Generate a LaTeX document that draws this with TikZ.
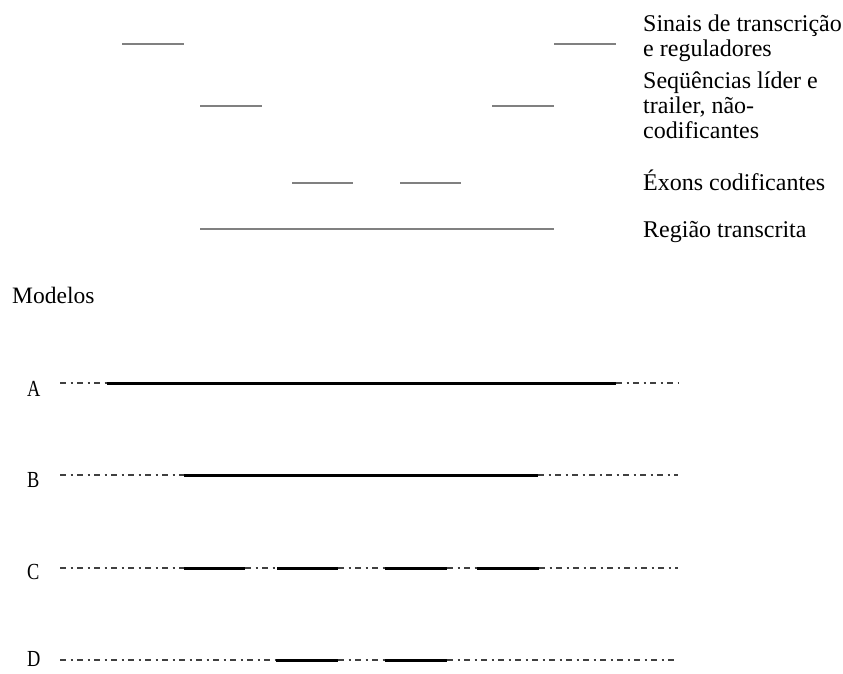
\documentclass[tikz,border=0pt]{standalone}
\usepackage{fontspec}
\setmainfont{Liberation Serif}
\newcommand{\narrowltr}[1]{\scalebox{0.8}[1]{#1}}
\begin{document}
\begin{tikzpicture}[x=1pt,y=-1pt,
  seg/.style={draw=black!50,line width=2.3pt},
  solidbar/.style={draw=black,line width=3pt},
  dashdot/.style={draw=black!75,line width=2pt,dash pattern=on 6pt off 4.5pt on 2pt off 4.5pt},
  lbl/.style={anchor=base west,inner sep=0pt,font=\fontsize{24}{28}\selectfont},
  mdl/.style={anchor=base west,inner sep=0pt,font=\fontsize{23}{27}\selectfont}]
\useasboundingbox[fill=white] (0,0) rectangle (843,673);
% legend segments
\draw[seg] (122,44) -- (184,44);
\draw[seg] (554,44) -- (616,44);
\draw[seg] (200,106) -- (262,106);
\draw[seg] (492,106) -- (554,106);
\draw[seg] (292,183) -- (353,183);
\draw[seg] (400,183) -- (461,183);
\draw[seg] (200,229) -- (554,229);
% legend labels
\node[lbl] (l1a) at (643,31) {Sinais de transcrição};
\node[lbl] (l1b) at (643,56) {e reguladores};
\node[lbl] (l2a) at (643,88) {Seqüências líder e};
\node[lbl] (l2b) at (643,113) {trailer, não-};
\node[lbl] (l2c) at (643,138) {codificantes};
\node[lbl] (l3) at (643,190) {Éxons codificantes};
\node[lbl] (l4) at (643,237) {Região transcrita};
% models
\node[anchor=base west,inner sep=0pt,font=\fontsize{23.5}{27}\selectfont] (mod) at (12,303) {Modelos};
\node[mdl] (ma) at (27,396) {\narrowltr{A}};
\node[mdl] (mb) at (27,487) {\narrowltr{B}};
\node[mdl] (mc) at (27,579) {\narrowltr{C}};
\node[mdl] (md) at (27,666) {\narrowltr{D}};
% A
\draw[dashdot] (60,383) -- (107,383);
\draw[solidbar] (107,383) -- (616,383);
\draw[dashdot] (616,383) -- (678,383);
% B
\draw[dashdot] (60,475) -- (184,475);
\draw[solidbar] (184,475) -- (538,475);
\draw[dashdot] (538,475) -- (678,475);
% C
\draw[dashdot] (60,568) -- (184,568);
\draw[solidbar] (184,568) -- (245,568);
\draw[dashdot] (245,568) -- (277,568);
\draw[solidbar] (277,568) -- (338,568);
\draw[dashdot] (338,568) -- (385,568);
\draw[solidbar] (385,568) -- (447,568);
\draw[dashdot] (447,568) -- (477,568);
\draw[solidbar] (477,568) -- (539,568);
\draw[dashdot] (539,568) -- (678,568);
% D
\draw[dashdot] (60,660) -- (276,660);
\draw[solidbar] (276,660) -- (338,660);
\draw[dashdot] (338,660) -- (385,660);
\draw[solidbar] (385,660) -- (447,660);
\draw[dashdot] (447,660) -- (678,660);
\end{tikzpicture}
\end{document}
